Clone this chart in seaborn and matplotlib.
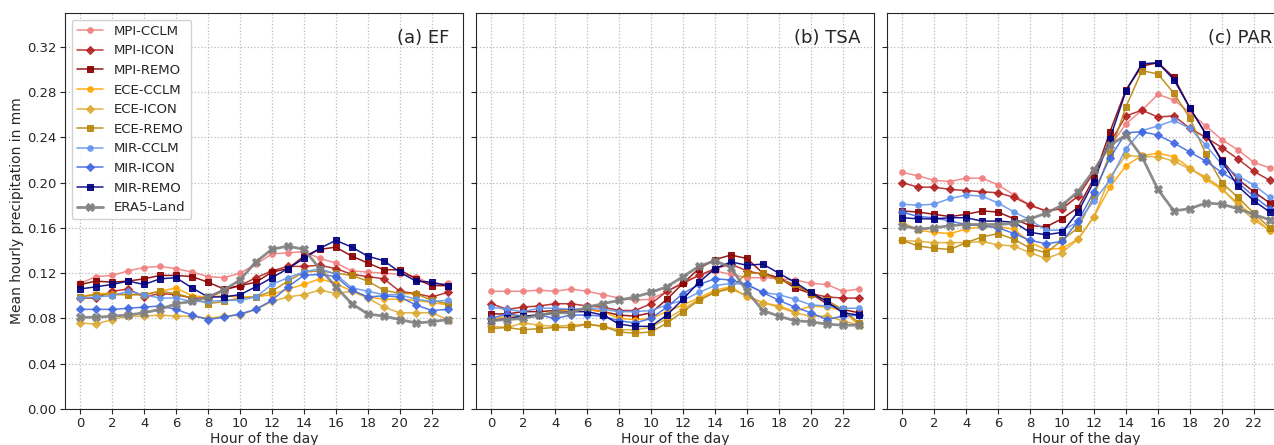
import numpy as np
import pandas as pd
import matplotlib
matplotlib.use("Agg")
import matplotlib.pyplot as plt
import seaborn as sns

hours = list(range(24))

models = ["MPI-CCLM", "MPI-ICON", "MPI-REMO", "ECE-CCLM", "ECE-ICON", "ECE-REMO",
          "MIR-CCLM", "MIR-ICON", "MIR-REMO", "ERA5-Land"]
colors = ["#F08080", "#B22222", "#8B0000", "#FFA500", "#DDAA33", "#B8860B",
          "#6495ED", "#4169E1", "#000080", "#808080"]
markers = ["o", "D", "s", "o", "D", "s", "o", "D", "s", "X"]

panels = ["(a) EF", "(b) TSA", "(c) PAR"]

# (a) EF
ef = {
    "MPI-CCLM": [0.111, 0.117, 0.118, 0.122, 0.125, 0.126, 0.124, 0.121, 0.117, 0.116, 0.120, 0.128,
                 0.137, 0.138, 0.139, 0.133, 0.129, 0.122, 0.121, 0.120, 0.119, 0.117, 0.110, 0.111],
    "MPI-ICON": [0.098, 0.098, 0.104, 0.106, 0.099, 0.102, 0.101, 0.098, 0.098, 0.105, 0.109, 0.116,
                 0.122, 0.126, 0.126, 0.127, 0.124, 0.119, 0.117, 0.115, 0.104, 0.102, 0.099, 0.103],
    "MPI-REMO": [0.110, 0.113, 0.112, 0.113, 0.115, 0.118, 0.118, 0.117, 0.112, 0.106, 0.109, 0.112,
                 0.121, 0.124, 0.135, 0.141, 0.143, 0.135, 0.129, 0.123, 0.123, 0.115, 0.109, 0.109],
    "ECE-CCLM": [0.099, 0.102, 0.102, 0.101, 0.101, 0.104, 0.107, 0.100, 0.099, 0.100, 0.099, 0.099,
                 0.101, 0.106, 0.110, 0.115, 0.111, 0.104, 0.099, 0.097, 0.097, 0.096, 0.094, 0.092],
    "ECE-ICON": [0.076, 0.075, 0.079, 0.082, 0.082, 0.083, 0.082, 0.082, 0.080, 0.082, 0.083, 0.088,
                 0.095, 0.099, 0.101, 0.105, 0.102, 0.104, 0.098, 0.090, 0.085, 0.085, 0.085, 0.079],
    "ECE-REMO": [0.099, 0.101, 0.101, 0.101, 0.101, 0.104, 0.102, 0.098, 0.093, 0.095, 0.098, 0.099,
                 0.104, 0.113, 0.121, 0.122, 0.120, 0.118, 0.113, 0.105, 0.102, 0.102, 0.096, 0.093],
    "MIR-CCLM": [0.098, 0.099, 0.100, 0.104, 0.101, 0.098, 0.098, 0.095, 0.095, 0.096, 0.096, 0.099,
                 0.110, 0.116, 0.121, 0.124, 0.119, 0.107, 0.104, 0.101, 0.101, 0.097, 0.095, 0.096],
    "MIR-ICON": [0.088, 0.088, 0.088, 0.089, 0.090, 0.091, 0.088, 0.083, 0.079, 0.081, 0.084, 0.088,
                 0.096, 0.108, 0.118, 0.119, 0.117, 0.105, 0.099, 0.100, 0.099, 0.092, 0.087, 0.088],
    "MIR-REMO": [0.106, 0.108, 0.110, 0.113, 0.110, 0.115, 0.116, 0.107, 0.099, 0.099, 0.101, 0.108,
                 0.116, 0.124, 0.133, 0.142, 0.149, 0.143, 0.135, 0.131, 0.121, 0.113, 0.112, 0.109],
    "ERA5-Land": [0.081, 0.081, 0.082, 0.083, 0.085, 0.088, 0.093, 0.095, 0.099, 0.105, 0.114, 0.130,
                  0.141, 0.144, 0.141, 0.124, 0.108, 0.093, 0.084, 0.082, 0.079, 0.076, 0.077, 0.079],
}

# (b) TSA
tsa = {
    "MPI-CCLM": [0.104, 0.104, 0.104, 0.105, 0.104, 0.106, 0.104, 0.101, 0.098, 0.096, 0.097, 0.104,
                 0.112, 0.118, 0.122, 0.119, 0.116, 0.116, 0.115, 0.114, 0.111, 0.110, 0.104, 0.106],
    "MPI-ICON": [0.093, 0.088, 0.090, 0.091, 0.093, 0.093, 0.091, 0.090, 0.087, 0.087, 0.093, 0.104,
                 0.111, 0.118, 0.124, 0.128, 0.122, 0.119, 0.115, 0.110, 0.102, 0.099, 0.098, 0.098],
    "MPI-REMO": [0.084, 0.084, 0.086, 0.086, 0.087, 0.088, 0.088, 0.086, 0.083, 0.082, 0.085, 0.097,
                 0.111, 0.124, 0.132, 0.136, 0.133, 0.120, 0.116, 0.107, 0.102, 0.093, 0.088, 0.085],
    "ECE-CCLM": [0.079, 0.082, 0.082, 0.083, 0.086, 0.087, 0.088, 0.086, 0.080, 0.079, 0.080, 0.086,
                 0.092, 0.098, 0.105, 0.108, 0.099, 0.094, 0.091, 0.086, 0.091, 0.090, 0.087, 0.074],
    "ECE-ICON": [0.073, 0.072, 0.076, 0.074, 0.073, 0.074, 0.075, 0.073, 0.070, 0.070, 0.072, 0.080,
                 0.088, 0.097, 0.103, 0.106, 0.100, 0.094, 0.090, 0.085, 0.082, 0.082, 0.078, 0.074],
    "ECE-REMO": [0.071, 0.072, 0.070, 0.071, 0.072, 0.072, 0.075, 0.073, 0.068, 0.067, 0.068, 0.076,
                 0.086, 0.096, 0.103, 0.107, 0.120, 0.120, 0.114, 0.110, 0.102, 0.096, 0.088, 0.076],
    "MIR-CCLM": [0.090, 0.088, 0.086, 0.089, 0.089, 0.088, 0.089, 0.088, 0.086, 0.086, 0.087, 0.092,
                 0.096, 0.103, 0.109, 0.111, 0.110, 0.103, 0.101, 0.097, 0.092, 0.091, 0.089, 0.089],
    "MIR-ICON": [0.080, 0.084, 0.082, 0.083, 0.080, 0.083, 0.083, 0.082, 0.078, 0.076, 0.080, 0.090,
                 0.102, 0.110, 0.115, 0.114, 0.110, 0.103, 0.096, 0.090, 0.085, 0.079, 0.082, 0.083],
    "MIR-REMO": [0.078, 0.080, 0.082, 0.083, 0.085, 0.086, 0.086, 0.083, 0.075, 0.073, 0.073, 0.083,
                 0.097, 0.112, 0.124, 0.130, 0.127, 0.128, 0.120, 0.112, 0.103, 0.095, 0.085, 0.083],
    "ERA5-Land": [0.078, 0.079, 0.080, 0.083, 0.085, 0.085, 0.090, 0.093, 0.096, 0.099, 0.103, 0.108,
                  0.117, 0.126, 0.131, 0.125, 0.104, 0.087, 0.082, 0.078, 0.077, 0.075, 0.074, 0.074],
}

# (c) PAR
par = {
    "MPI-CCLM": [0.209, 0.206, 0.202, 0.201, 0.204, 0.204, 0.198, 0.189, 0.180, 0.175, 0.177, 0.188,
                 0.211, 0.232, 0.252, 0.264, 0.278, 0.273, 0.262, 0.250, 0.238, 0.229, 0.218, 0.213],
    "MPI-ICON": [0.200, 0.196, 0.196, 0.194, 0.193, 0.192, 0.191, 0.187, 0.180, 0.175, 0.177, 0.188,
                 0.209, 0.235, 0.259, 0.264, 0.258, 0.259, 0.248, 0.240, 0.231, 0.221, 0.210, 0.202],
    "MPI-REMO": [0.175, 0.174, 0.172, 0.170, 0.172, 0.175, 0.174, 0.168, 0.162, 0.161, 0.168, 0.178,
                 0.204, 0.245, 0.282, 0.303, 0.306, 0.293, 0.266, 0.243, 0.220, 0.203, 0.192, 0.182],
    "ECE-CCLM": [0.165, 0.158, 0.156, 0.155, 0.159, 0.161, 0.161, 0.159, 0.147, 0.141, 0.142, 0.150,
                 0.170, 0.196, 0.215, 0.224, 0.226, 0.223, 0.213, 0.203, 0.194, 0.182, 0.170, 0.157],
    "ECE-ICON": [0.149, 0.148, 0.147, 0.147, 0.147, 0.148, 0.145, 0.144, 0.138, 0.133, 0.138, 0.150,
                 0.170, 0.205, 0.224, 0.223, 0.223, 0.219, 0.212, 0.205, 0.195, 0.180, 0.167, 0.158],
    "ECE-REMO": [0.149, 0.144, 0.142, 0.141, 0.147, 0.152, 0.155, 0.150, 0.142, 0.138, 0.149, 0.160,
                 0.188, 0.226, 0.267, 0.299, 0.296, 0.279, 0.257, 0.225, 0.200, 0.187, 0.173, 0.160],
    "MIR-CCLM": [0.181, 0.180, 0.181, 0.186, 0.189, 0.188, 0.182, 0.174, 0.167, 0.158, 0.158, 0.165,
                 0.184, 0.202, 0.230, 0.246, 0.250, 0.255, 0.248, 0.233, 0.216, 0.206, 0.198, 0.187],
    "MIR-ICON": [0.174, 0.170, 0.169, 0.166, 0.163, 0.162, 0.160, 0.155, 0.149, 0.146, 0.148, 0.166,
                 0.192, 0.222, 0.244, 0.245, 0.242, 0.235, 0.227, 0.219, 0.209, 0.200, 0.188, 0.177],
    "MIR-REMO": [0.169, 0.168, 0.168, 0.169, 0.169, 0.166, 0.166, 0.165, 0.156, 0.154, 0.156, 0.174,
                 0.201, 0.239, 0.281, 0.305, 0.306, 0.291, 0.266, 0.243, 0.219, 0.197, 0.184, 0.174],
    "ERA5-Land": [0.162, 0.159, 0.160, 0.162, 0.163, 0.163, 0.163, 0.164, 0.168, 0.173, 0.180, 0.192,
                  0.211, 0.233, 0.242, 0.223, 0.194, 0.175, 0.177, 0.182, 0.181, 0.177, 0.172, 0.167],
}

datasets = [ef, tsa, par]

sns.set_style("ticks")
plt.rcParams["font.family"] = ["DejaVu Sans"]

fig = plt.figure(figsize=(12.74, 4.45), dpi=100)
axes = fig.subplots(1, 3, sharey=True)
# third panel runs past the right edge, like the reference crop
fig.subplots_adjust(left=0.051, right=1.0086, bottom=0.081, top=0.971, wspace=0.033)

for ax, data, title in zip(axes, datasets, panels):
    for name, col, mk in zip(models, colors, markers):
        era = name == "ERA5-Land"
        df = pd.DataFrame({"hour": hours, "value": data[name]})
        sns.lineplot(data=df, x="hour", y="value", ax=ax, color=col, marker=mk,
                     markersize=6 if era else 4, markeredgecolor=col,
                     linewidth=2.0 if era else 1.1, alpha=0.9, label=name)
    ax.set_xlim(-0.95, 23.95)
    ax.set_ylim(0, 0.35)
    ax.set_xticks(range(0, 24, 2))
    ax.set_yticks(np.arange(0, 0.33, 0.04))
    ax.yaxis.set_major_formatter(matplotlib.ticker.FormatStrFormatter("%.2f"))
    ax.grid(True, linestyle=":", color="#bbbbbb", linewidth=0.9)
    ax.tick_params(labelsize=9.5, pad=2.5)
    ax.set_xlabel("Hour of the day", fontsize=10, labelpad=1)
    ax.set_ylabel("")
    ax.text(0.967, 0.937, title, transform=ax.transAxes, ha="right", va="center", fontsize=13)
    if ax is not axes[0]:
        ax.get_legend().remove()

axes[0].set_ylabel("Mean hourly precipitation in mm", fontsize=10, labelpad=2)
axes[0].legend(loc="upper left", fontsize=9.5, framealpha=0.9)

fig.savefig("out.png", dpi=100)
